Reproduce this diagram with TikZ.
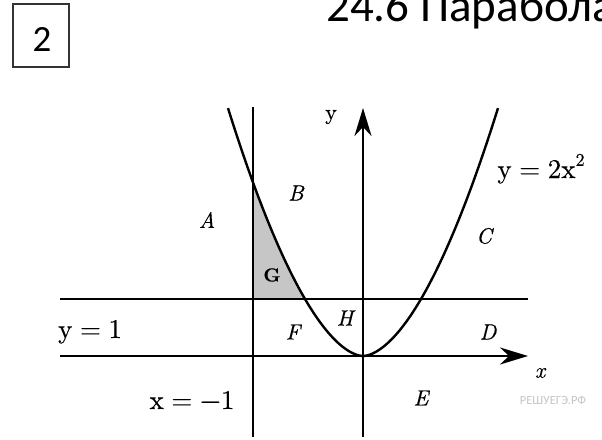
\documentclass[tikz,border=0pt]{standalone}
\usepackage{fontspec}
\newfontfamily\cali{Carlito}
\newfontfamily\lmten{lmroman10}[Extension=.otf, UprightFont=*-regular, ItalicFont=*-italic, BoldFont=*-bold, FakeBold=0.4]
\usetikzlibrary{arrows.meta}
\newcommand\eqsp{\hspace{0.28em}}
\begin{document}
\begin{tikzpicture}[x=1pt,y=-1pt,
  axisline/.style={line width=2.6pt},
  curveline/.style={line width=2.4pt},
  tipstyle/.style={-{Stealth[length=28pt,width=17pt,inset=9pt]}},
  eq/.style={inner sep=0pt, font=\lmten\fontsize{27}{30}\selectfont},
  lab/.style={inner sep=0pt, font=\lmten\fontsize{22}{26}\selectfont},
]
\useasboundingbox (0,0) rectangle (602,439);
\clip (0,0) rectangle (602,439);

% named points
\coordinate (O) at (363,356);
\coordinate (XL) at (60,356);
\coordinate (XR) at (528,356);
\coordinate (YB) at (363,437);
\coordinate (YT) at (363,108);
\coordinate (VT) at (253,107);
\coordinate (VB) at (253,437);
\coordinate (HL) at (60,299);
\coordinate (HR) at (528,299);

% shaded region G
\begin{scope}[shift={(363,356)}]
  \fill[gray!45] plot[domain=-110:-58, samples=40] (\x,{-57*pow(-\x/58,1.74)}) -- (-110,-57) -- cycle;
\end{scope}

% lines
\draw[axisline] (HL) -- (HR);
\draw[axisline] (VT) -- (VB);
\draw[axisline, tipstyle] (XL) -- (XR);
\draw[axisline, tipstyle] (YB) -- (YT);

% parabola
\begin{scope}[shift={(363,356)}]
  \draw[curveline] plot[domain=-135:135, samples=100, smooth] (\x,{-57*pow(abs(\x)/58,1.74)});
\end{scope}

% labels
\node[eq, anchor=base west] (ylbl1) at (58,338) {y\eqsp=\eqsp1};
\node[eq, anchor=base] (xlblm1) at (192,409) {x\eqsp=\eqsp−1};
\node[eq, anchor=base] (parlbl) at (541,178) {y\eqsp=\eqsp2x\raisebox{0.45em}{\fontsize{18}{20}\selectfont 2}};
\node[lab] (ylab) at (331,117) {y};
\node[lab] (xlab) at (540,373) {\itshape x};
\node[lab] (A) at (207,220) {\itshape A};
\node[lab] (B) at (296,193) {\itshape B};
\node[lab] (C) at (484,236) {\itshape C};
\node[lab] (D) at (488,332) {\itshape D};
\node[lab] (E) at (421,398) {\itshape E};
\node[lab] (F) at (293,332) {\itshape F};
\node[lab] (H) at (345,318) {\itshape H};
\node[inner sep=0pt, font=\lmten\bfseries\fontsize{19}{22}\selectfont] (G) at (272,275) {G};
\node[inner sep=0pt, font=\cali\fontsize{12.5}{14}\selectfont, text=gray!45] (wm) at (553,400) {РЕШУЕГЭ.РФ};

% header
\draw[draw=black!80, line width=1.4pt] (13,4) rectangle (69,67);
\node[inner sep=0pt, font=\cali\fontsize{37}{40}\selectfont] (num) at (42,39) {2};
\node[anchor=base west, inner sep=0pt, font=\cali\fontsize{47}{50}\selectfont] (title) at (326,21) {24.6 Парабола};
\end{tikzpicture}
\end{document}
